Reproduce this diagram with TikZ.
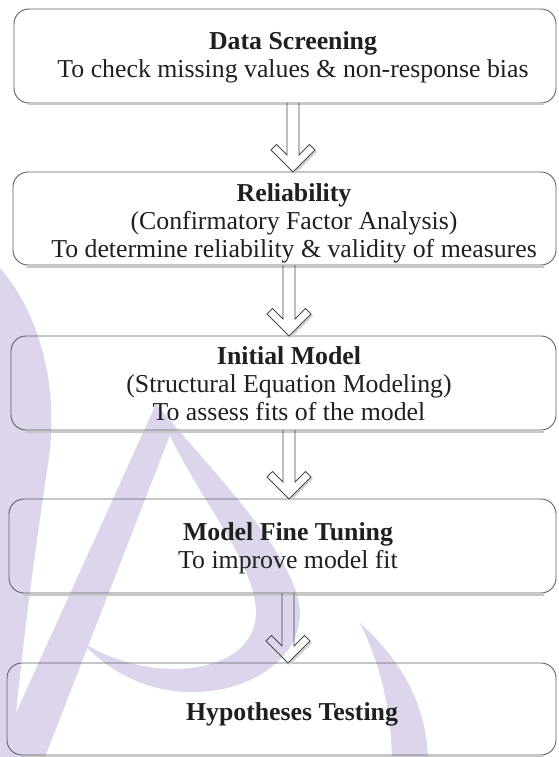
\documentclass[tikz,border=0pt]{standalone}
\usepackage{fontspec}
\setmainfont{Liberation Serif}
\usetikzlibrary{calc}
\definecolor{wm}{RGB}{221,213,236}
\definecolor{boxline}{RGB}{95,95,95}
\newcommand\hollowarrow[3]{%
  \draw[arrowshade] let \p2=(#2.north), \p3=(#3) in
    (\x3+1.2pt,\y2-1.2pt) -- (\x3+23.2pt,\y2+20.8pt);
  \draw[hollow] let \p1=(#1.south), \p2=(#2.north), \p3=(#3) in
    (\x3-6pt,\y1) -- (\x3-6pt,\y2+17pt) -- (\x3-16.5pt,\y2+27.5pt) -- (\x3-22pt,\y2+22pt)
    -- (\x3,\y2) -- (\x3+22pt,\y2+22pt) -- (\x3+16.5pt,\y2+27.5pt) -- (\x3+6pt,\y2+17pt)
    -- (\x3+6pt,\y1);
}
\newcommand\boxshadow[1]{%
  \draw[boxshade] ([xshift=14pt,yshift=-1.8pt]#1.south west) -- ([xshift=-12pt,yshift=-1.8pt]#1.south east);
}
\begin{document}
\begin{tikzpicture}[x=1pt,y=-1pt,
  box/.style={draw=boxline, line width=0.9pt, rounded corners=15pt, inner sep=0pt, outer sep=0pt},
  boxtext/.style={align=center, inner sep=0pt, font=\fontsize{25.8}{28}\selectfont, text=black!88},
  hollow/.style={draw=black!72, line width=0.8pt, line join=miter},
  arrowshade/.style={draw=black!18, line width=2.2pt},
  boxshade/.style={draw=black!22, line width=1.4pt},
  wmark/.style={fill=wm, draw=none}]
\useasboundingbox (0,0) rectangle (559,757);
% watermark
\fill[wmark] (0,268) .. controls (45,320) and (60,400) .. (47,470)
  .. controls (37,540) and (22,640) .. (12,757) -- (0,757) -- cycle;
\fill[wmark] (156,404) -- (172,430) -- (45,757) -- (0,757) -- (0,748) -- cycle;
\fill[wmark] (156,404) .. controls (222,482) and (300,560) .. (300,615)
  .. controls (298,690) and (160,730) .. (82,642)
  .. controls (150,686) and (256,676) .. (256,612)
  .. controls (254,555) and (190,492) .. (156,404) -- cycle;
\fill[wmark] (360,623) .. controls (400,660) and (425,700) .. (428,757)
  -- (392,757) .. controls (390,700) and (378,660) .. (360,623) -- cycle;
% boxes
\node[box, minimum width=542pt, minimum height=94pt] (b1) at (285,56) {};
\node[box, minimum width=543pt, minimum height=93pt] (b2) at (284.5,218.5) {};
\node[box, minimum width=545pt, minimum height=94pt] (b3) at (283.5,383) {};
\node[box, minimum width=547pt, minimum height=94pt] (b4) at (282.5,546) {};
\node[box, minimum width=549pt, minimum height=92pt] (b5) at (281.5,709) {};
\boxshadow{b1}\boxshadow{b2}\boxshadow{b3}\boxshadow{b4}\boxshadow{b5}
% texts
\node[boxtext] (t1) at (293,57) {\textbf{Data Screening}\\To check missing values \& non-response bias};
\node[boxtext] (t2) at (294,223) {\textbf{Reliability}\\(Confirmatory Factor Analysis)\\To determine reliability \& validity of measures};
\node[boxtext] (t3) at (289,384) {\textbf{Initial Model}\\(Structural Equation Modeling)\\To assess fits of the model};
\node[boxtext] (t4) at (288,548) {\textbf{Model Fine Tuning}\\To improve model fit};
\node[boxtext] (t5) at (292,714) {\textbf{Hypotheses Testing}};
% arrows
\coordinate (a1) at (293,0);
\coordinate (a2) at (289,0);
\coordinate (a3) at (289,0);
\coordinate (a4) at (288,0);
\hollowarrow{b1}{b2}{a1}
\hollowarrow{b2}{b3}{a2}
\hollowarrow{b3}{b4}{a3}
\hollowarrow{b4}{b5}{a4}
\end{tikzpicture}
\end{document}
